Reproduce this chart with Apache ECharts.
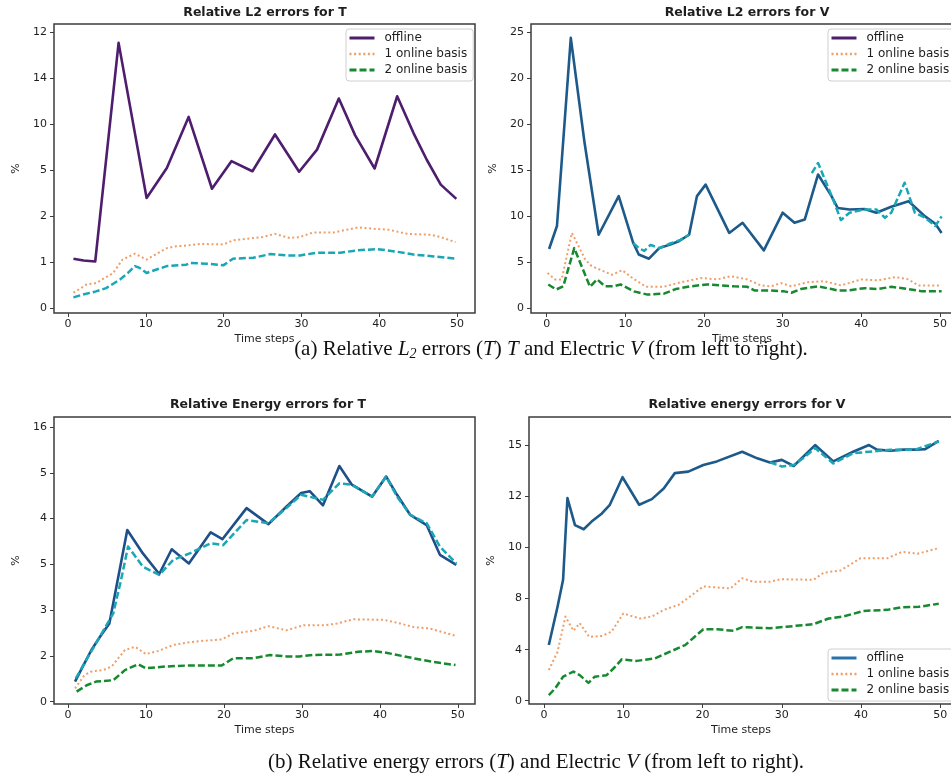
<!DOCTYPE html>
<html>
<head>
<meta charset="utf-8">
<script src="https://cdn.jsdelivr.net/npm/echarts@6/dist/echarts.min.js"></script>
<style>
  html, body { margin: 0; padding: 0; background: #ffffff; }
  #main { width: 951px; height: 778px; }
</style>
</head>
<body>
<div id="main"></div>
<script>
// ---- Tick labels (y labels sit at evenly spaced positions 0,1,2,...) ----
const xTickValues = [0, 10, 20, 30, 40, 50];
const l2TLabels = ['0', '1', '2', '5', '10', '14', '12'];
const l2VLabels = ['0', '5', '10', '15', '20', '20', '25'];
const enTLabels = ['0', '2', '3', '5', '4', '5', '16'];
const enVLabels = ['0', '4', '8', '10', '12', '15'];

// ---- Relative L2 errors for T ----
const l2T_offSteps = [0.7, 2, 3.5, 6.5, 10.1, 12.7, 15.5, 18.5, 21, 23.7, 26.6, 29.7, 32, 34.8, 36.9, 39.4, 42.3, 44.4, 46.1, 47.9, 49.9];
const l2T_off = [1.07, 1.03, 1.01, 5.76, 2.39, 3.04, 4.15, 2.59, 3.19, 2.97, 3.77, 2.96, 3.44, 4.55, 3.75, 3.03, 4.60, 3.80, 3.22, 2.68, 2.37];
const l2T_on1Steps = [0.7, 2.4, 3.6, 5.8, 7, 8.6, 10.1, 12.7, 13.9, 15.5, 17, 20, 21.2, 23.8, 25, 26.6, 28.5, 29.8, 31.5, 34.1, 37.3, 39.3, 41.2, 43.6, 46.6, 47.9, 49.8];
const l2T_on1 = [0.33, 0.51, 0.54, 0.76, 1.05, 1.18, 1.05, 1.30, 1.34, 1.36, 1.39, 1.38, 1.47, 1.52, 1.54, 1.61, 1.52, 1.54, 1.64, 1.64, 1.75, 1.72, 1.70, 1.61, 1.59, 1.54, 1.43];
const l2T_on2Steps = [0.7, 1.9, 3.6, 4.9, 6.7, 7.7, 8.6, 9.2, 10.1, 12.7, 15.2, 15.7, 17.8, 20, 21.2, 23.8, 26, 28.1, 29.8, 32, 35, 37.1, 39.7, 42.3, 44.4, 47, 49.8];
const l2T_on2 = [0.23, 0.29, 0.36, 0.43, 0.62, 0.76, 0.91, 0.87, 0.76, 0.91, 0.94, 0.98, 0.96, 0.93, 1.07, 1.09, 1.17, 1.14, 1.14, 1.20, 1.20, 1.25, 1.28, 1.22, 1.16, 1.12, 1.07];

// ---- Relative L2 errors for V ----
const l2V_offSteps = [0.3, 1.3, 3.06, 4.8, 6.6, 9.15, 11, 11.7, 13, 14.3, 15.7, 16.8, 18.1, 19.1, 20.2, 23.2, 24.9, 27.6, 30, 31.5, 32.8, 34.5, 36.2, 37, 38.5, 40.4, 41.9, 43.8, 46, 48.1, 49.4, 50.2];
const l2V_off = [1.28, 1.78, 5.87, 3.6, 1.59, 2.43, 1.41, 1.16, 1.07, 1.30, 1.38, 1.45, 1.59, 2.43, 2.68, 1.63, 1.85, 1.25, 2.07, 1.85, 1.92, 2.90, 2.43, 2.17, 2.14, 2.15, 2.07, 2.20, 2.32, 1.99, 1.83, 1.63];
const l2V_refASteps = [11, 11.7, 12.4, 13.2, 14.3, 15.7, 17, 18.1];
const l2V_refA = [1.41, 1.30, 1.24, 1.37, 1.30, 1.40, 1.48, 1.59];
const l2V_refBSteps = [33.7, 34.5, 36.4, 37.4, 38.5, 40.4, 41.9, 43, 43.8, 45.5, 46.8, 48.1, 49.4, 50.2];
const l2V_refB = [2.93, 3.15, 2.36, 1.91, 2.07, 2.14, 2.14, 1.96, 2.07, 2.72, 2.07, 1.96, 1.78, 1.99];
const l2V_on1Steps = [0.1, 1.06, 1.9, 3.2, 4.9, 5.7, 7.2, 8.3, 9.6, 10.9, 12.6, 14.9, 16.6, 19.6, 21.7, 23.4, 25.5, 27.2, 28.5, 29.8, 31.1, 33.2, 35.3, 37.4, 40, 42.1, 44.3, 46, 47.2, 50.2];
const l2V_on1 = [0.76, 0.62, 0.62, 1.63, 1.05, 0.91, 0.80, 0.72, 0.82, 0.65, 0.46, 0.46, 0.54, 0.65, 0.62, 0.69, 0.62, 0.49, 0.47, 0.54, 0.47, 0.56, 0.58, 0.49, 0.62, 0.60, 0.67, 0.62, 0.49, 0.49];
const l2V_on2Steps = [0.2, 1.2, 2.1, 3.5, 5.5, 6.4, 7.4, 8.5, 9.4, 11.1, 12.8, 14.9, 16.4, 18.3, 20.4, 23.8, 25.5, 26.4, 28.5, 30.2, 31.1, 32.3, 34.5, 36.2, 37, 38.3, 40.4, 42.1, 43.8, 46, 47.7, 50.2];
const l2V_on2 = [0.51, 0.40, 0.47, 1.30, 0.46, 0.62, 0.47, 0.47, 0.51, 0.36, 0.29, 0.31, 0.41, 0.47, 0.51, 0.47, 0.46, 0.38, 0.38, 0.36, 0.33, 0.41, 0.47, 0.41, 0.38, 0.38, 0.43, 0.41, 0.46, 0.41, 0.36, 0.36];

// ---- Relative Energy errors for T ----
const enT_offSteps = [0.9, 1.9, 3, 4.1, 5.3, 7.6, 9.6, 11.7, 13.3, 15.5, 18.3, 19.8, 22.9, 25.7, 28, 29.9, 31, 32.7, 34.8, 36.4, 39, 40.8, 42.2, 43.9, 46, 47.7, 49.8];
const enT_off = [0.44, 0.77, 1.13, 1.42, 1.71, 3.75, 3.24, 2.79, 3.33, 3.02, 3.70, 3.55, 4.23, 3.88, 4.26, 4.56, 4.60, 4.29, 5.15, 4.74, 4.48, 4.92, 4.52, 4.08, 3.86, 3.21, 2.99];
const enT_refSteps = [1, 2.1, 3.6, 5.8, 6.8, 7.7, 9.6, 11.7, 13.5, 15.6, 18.3, 19.9, 22.9, 25.7, 28, 29.9, 32.7, 34.8, 36.4, 39, 40.8, 42.2, 43.9, 46, 47.7, 49.8];
const enT_ref = [0.51, 0.84, 1.28, 1.93, 2.66, 3.39, 2.95, 2.77, 3.10, 3.24, 3.46, 3.42, 3.97, 3.90, 4.23, 4.52, 4.41, 4.77, 4.74, 4.48, 4.92, 4.48, 4.08, 3.90, 3.39, 3.02];
const enT_on1Steps = [0.9, 2.1, 3, 4.5, 5.6, 7.3, 8.6, 10, 11.6, 13.5, 15.2, 17.3, 19.7, 21.2, 23.8, 25.7, 28, 30.2, 33, 34.5, 36.6, 40.5, 42.6, 44.3, 46.4, 49.7];
const enT_on1 = [0.29, 0.58, 0.66, 0.69, 0.77, 1.13, 1.20, 1.04, 1.11, 1.24, 1.29, 1.33, 1.36, 1.49, 1.55, 1.65, 1.56, 1.67, 1.67, 1.71, 1.80, 1.79, 1.71, 1.63, 1.60, 1.44];
const enT_on2Steps = [1.1, 2.4, 3.6, 5.8, 7.3, 9, 10, 12.6, 15.2, 19.7, 21.2, 23.8, 25.9, 28, 29.7, 31.4, 34.9, 37.2, 39.1, 40.8, 44.3, 46.9, 49.7];
const enT_on2 = [0.22, 0.36, 0.44, 0.47, 0.69, 0.82, 0.73, 0.77, 0.79, 0.79, 0.95, 0.95, 1.02, 0.99, 0.99, 1.02, 1.03, 1.09, 1.11, 1.07, 0.95, 0.87, 0.80];

// ---- Relative energy errors for V ----
const enV_offSteps = [0.6, 1.7, 2.4, 2.95, 3.9, 5, 6, 7.3, 8.3, 9.9, 12, 13.6, 15.1, 16.5, 18.2, 20.1, 21.8, 25, 26.9, 28.5, 30, 31.5, 34.2, 36.5, 39, 41, 42, 43.7, 45.4, 46.8, 48.1, 49.8];
const enV_off = [1.09, 1.84, 2.37, 3.97, 3.44, 3.36, 3.51, 3.67, 3.84, 4.38, 3.84, 3.95, 4.16, 4.46, 4.49, 4.62, 4.69, 4.88, 4.75, 4.67, 4.72, 4.60, 5.01, 4.69, 4.88, 5.01, 4.92, 4.90, 4.92, 4.92, 4.93, 5.09];
const enV_refSteps = [28.5, 30, 31.5, 32.7, 34.2, 36.5, 39, 41.1, 43.7, 46.8, 49.8];
const enV_ref = [4.67, 4.59, 4.62, 4.75, 4.95, 4.65, 4.85, 4.88, 4.92, 4.92, 5.08];
const enV_on1Steps = [0.6, 1.7, 2.7, 3.7, 4.5, 5.7, 7.3, 8.5, 10, 12.1, 13.6, 15.1, 17, 18.4, 20.1, 23.5, 25, 26.4, 28.5, 29.8, 34, 35.3, 37.4, 39.9, 43.3, 45.2, 47.1, 49.8];
const enV_on1 = [0.60, 0.96, 1.65, 1.37, 1.52, 1.25, 1.27, 1.35, 1.71, 1.61, 1.65, 1.78, 1.88, 2.04, 2.24, 2.20, 2.40, 2.33, 2.33, 2.38, 2.37, 2.51, 2.55, 2.79, 2.79, 2.92, 2.88, 2.99];
const enV_on2Steps = [0.6, 1.4, 2.4, 3.7, 4.5, 5.6, 6.4, 7.9, 9, 9.8, 11.7, 14, 15.9, 17.8, 20.1, 21.8, 23.9, 25, 28.5, 30.6, 34, 35.9, 37.8, 40.3, 43.3, 45, 47.3, 49.8];
const enV_on2 = [0.11, 0.24, 0.47, 0.57, 0.50, 0.35, 0.47, 0.50, 0.67, 0.81, 0.78, 0.83, 0.96, 1.09, 1.40, 1.40, 1.37, 1.44, 1.42, 1.45, 1.50, 1.61, 1.65, 1.76, 1.78, 1.83, 1.84, 1.90];

// ---- Styling ----
const PURPLE = '#4e1d6d';
const NAVY = '#1d5a8a';
const NAVY_T = '#1f4f88';
const BLUE_LEG = '#2a72ac';
const CYAN = '#19a6b5';
const ORANGE = '#ee9f68';
const GREEN = '#17892f';
const FRAME = '#3d3d3d';
const TEXT = '#1e1e1e';
const SANS = 'DejaVu Sans';

const SOLID = { width: 2.6, type: 'solid' };
const DASH = { width: 2.5, type: [7, 3] };
const DOT = { width: 2.0, type: [2, 2.6] };

function pairs(steps, vals) {
  return steps.map((s, i) => [s, vals[i]]);
}

function line(name, gi, steps, vals, color, style) {
  return {
    type: 'line',
    name: name,
    xAxisIndex: gi,
    yAxisIndex: gi,
    data: pairs(steps, vals),
    symbol: 'none',
    showSymbol: false,
    silent: true,
    animation: false,
    lineStyle: { color: color, width: style.width, type: style.type, cap: 'butt', join: 'round' },
    itemStyle: { color: color }
  };
}

const grids = [
  { left: 54, top: 24, width: 421, height: 289 },
  { left: 531, top: 24, width: 422, height: 289 },
  { left: 54, top: 417, width: 421, height: 287 },
  { left: 529, top: 417, width: 424, height: 287 }
].map(g => Object.assign(g, {
  show: true, borderColor: FRAME, borderWidth: 1.5, backgroundColor: 'transparent',
  outerBoundsMode: 'none', containLabel: false
}));

const xRanges = [[-1.8, 52.3], [-2.0, 51.65], [-1.8, 52.2], [-1.9, 51.6]];
const xAxes = xRanges.map((r, i) => ({
  type: 'value',
  gridIndex: i,
  min: r[0],
  max: r[1],
  axisLine: { show: false, onZero: false },
  splitLine: { show: false },
  axisTick: { show: true, length: 4, customValues: xTickValues, lineStyle: { color: FRAME, width: 1 } },
  axisLabel: { customValues: xTickValues, margin: 6, fontFamily: SANS, fontSize: 11, color: TEXT },
  name: 'Time steps',
  nameLocation: 'middle',
  nameGap: 21,
  nameTextStyle: { fontFamily: SANS, fontSize: 11, color: TEXT }
}));

const yLabelSets = [l2TLabels, l2VLabels, enTLabels, enVLabels];
const yRanges = [[-0.11, 6.17], [-0.11, 6.17], [-0.05, 6.22], [-0.065, 5.56]];
const yAxes = yRanges.map((r, i) => {
  const labels = yLabelSets[i];
  const pos = labels.map((_, k) => k);
  return {
    type: 'value',
    gridIndex: i,
    min: r[0],
    max: r[1],
    axisLine: { show: false, onZero: false },
    splitLine: { show: false },
    axisTick: { show: true, length: 4, customValues: pos, lineStyle: { color: FRAME, width: 1 } },
    axisLabel: {
      customValues: pos, margin: 7, fontFamily: SANS, fontSize: 11, color: TEXT,
      formatter: v => labels[Math.round(v)]
    },
    name: '%',
    nameLocation: 'middle',
    nameRotate: 90,
    nameGap: 32,
    nameTextStyle: { fontFamily: SANS, fontSize: 11, color: TEXT }
  };
});

// Legend entries show only the line sample (no marker).
function legendItem(name, color, style) {
  return {
    name: name,
    itemStyle: { color: 'rgba(0,0,0,0)', opacity: 0, borderWidth: 0 },
    lineStyle: { color: color, width: style.width + 0.4, type: style.type, cap: 'butt', opacity: 1 }
  };
}

function legendBox(left, top, items) {
  return {
    left: left, top: top,
    orient: 'vertical',
    itemWidth: 25, itemHeight: 12, itemGap: 4,
    padding: [3, 6, 5, 2],
    borderColor: '#cfcfcf', borderWidth: 1, borderRadius: 3,
    backgroundColor: 'rgba(255,255,255,0.85)',
    selectedMode: false,
    textStyle: { fontFamily: SANS, fontSize: 12, lineHeight: 12, color: TEXT, padding: [0, 0, 0, 5] },
    data: items
  };
}

const titleStyle = { fontFamily: SANS, fontSize: 12.5, fontWeight: 'bold', color: TEXT };
const SERIF = 'Liberation Serif';
const capRich = {
  n: { fontFamily: SERIF, fontSize: 21, lineHeight: 24, fontWeight: 'normal', color: '#111' },
  i: { fontFamily: SERIF, fontSize: 21, lineHeight: 24, fontWeight: 'normal', fontStyle: 'italic', color: '#111' },
  s: { fontFamily: SERIF, fontSize: 14, lineHeight: 14, fontWeight: 'normal', fontStyle: 'italic', color: '#111', verticalAlign: 'bottom' }
};

const option = {
  backgroundColor: '#ffffff',
  animation: false,
  title: [
    { text: 'Relative L2 errors for T', left: 265, top: 6, textAlign: 'center', padding: 0, textStyle: titleStyle },
    { text: 'Relative L2 errors for V', left: 747, top: 6, textAlign: 'center', padding: 0, textStyle: titleStyle },
    { text: 'Relative Energy errors for T', left: 268, top: 398, textAlign: 'center', padding: 0, textStyle: titleStyle },
    { text: 'Relative energy errors for V', left: 747, top: 398, textAlign: 'center', padding: 0, textStyle: titleStyle },
    {
      text: '{n|(a) Relative }{i|L}{s|2}{n| errors (}{i|T}{n|) }{i|T}{n| and Electric }{i|V}{n| (from left to right).}',
      left: 551, top: 337, textAlign: 'center', padding: 0,
      textStyle: { fontWeight: 'normal', rich: capRich }
    },
    {
      text: '{n|(b) Relative energy errors (}{i|T}{n|) and Electric }{i|V}{n| (from left to right).}',
      left: 536, top: 750, textAlign: 'center', padding: 0,
      textStyle: { fontWeight: 'normal', rich: capRich }
    }
  ],
  legend: [
    legendBox(346, 29, [
      legendItem('offline', PURPLE, SOLID),
      legendItem('1 online basis', ORANGE, DOT),
      legendItem('2 online basis', GREEN, DASH)
    ]),
    legendBox(828, 29, [
      legendItem('offline', PURPLE, SOLID),
      legendItem('1 online basis', ORANGE, DOT),
      legendItem('2 online basis', GREEN, DASH)
    ]),
    legendBox(828, 649, [
      legendItem('offline', BLUE_LEG, SOLID),
      legendItem('1 online basis', ORANGE, DOT),
      legendItem('2 online basis', GREEN, DASH)
    ])
  ],
  grid: grids,
  xAxis: xAxes,
  yAxis: yAxes,
  series: [
    // L2, T
    line('1 online basis', 0, l2T_on1Steps, l2T_on1, ORANGE, DOT),
    line('2 online basis', 0, l2T_on2Steps, l2T_on2, CYAN, DASH),
    line('offline', 0, l2T_offSteps, l2T_off, PURPLE, SOLID),
    // L2, V
    line('1 online basis', 1, l2V_on1Steps, l2V_on1, ORANGE, DOT),
    line('2 online basis', 1, l2V_on2Steps, l2V_on2, GREEN, DASH),
    line('offline', 1, l2V_offSteps, l2V_off, NAVY, SOLID),
    line('reference', 1, l2V_refASteps, l2V_refA, CYAN, DASH),
    line('reference', 1, l2V_refBSteps, l2V_refB, CYAN, DASH),
    // Energy, T
    line('1 online basis', 2, enT_on1Steps, enT_on1, ORANGE, DOT),
    line('2 online basis', 2, enT_on2Steps, enT_on2, GREEN, DASH),
    line('offline', 2, enT_offSteps, enT_off, NAVY_T, SOLID),
    line('reference', 2, enT_refSteps, enT_ref, CYAN, DASH),
    // Energy, V
    line('1 online basis', 3, enV_on1Steps, enV_on1, ORANGE, DOT),
    line('2 online basis', 3, enV_on2Steps, enV_on2, GREEN, DASH),
    line('offline', 3, enV_offSteps, enV_off, NAVY, SOLID),
    line('reference', 3, enV_refSteps, enV_ref, CYAN, DASH)
  ]
};

const chart = echarts.init(document.getElementById('main'), null, { renderer: 'canvas' });
chart.setOption(option);
</script>
</body>
</html>
